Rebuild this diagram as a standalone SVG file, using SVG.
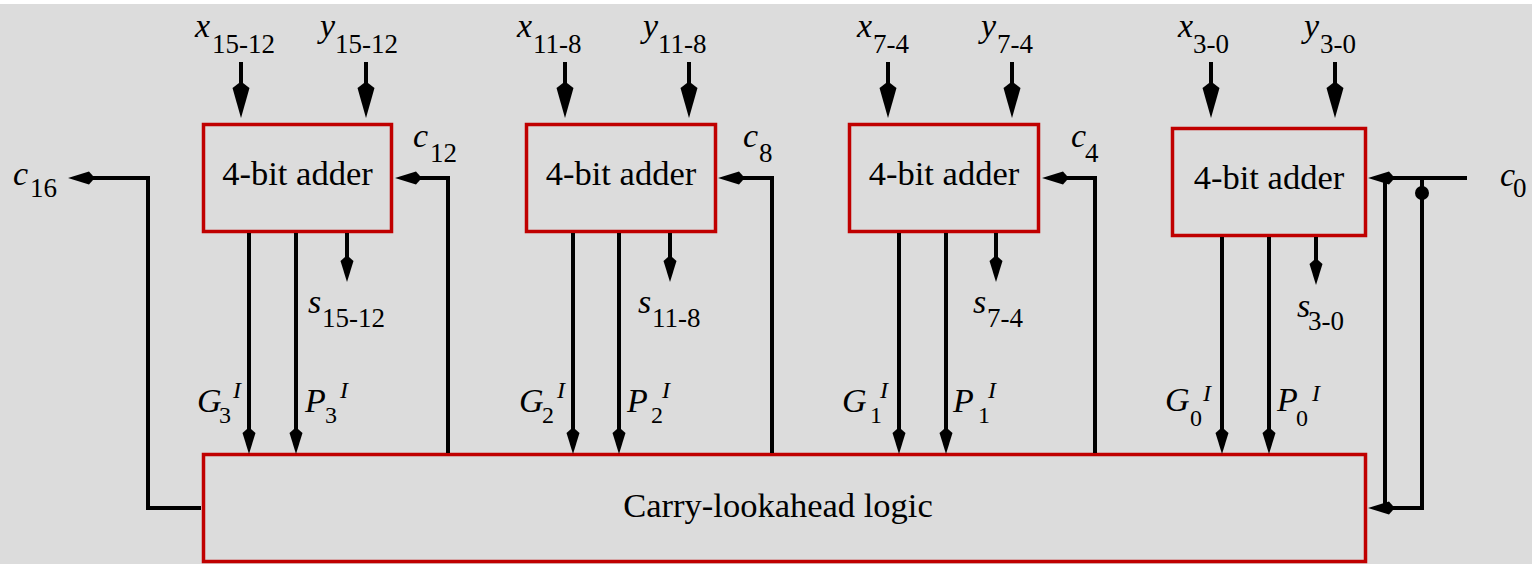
<svg xmlns="http://www.w3.org/2000/svg" width="1532" height="564" viewBox="0 0 1532 564">
<style>
.t{font-family:'Liberation Serif','Times New Roman','DejaVu Serif',serif}
.m{font-size:34px;font-style:italic}
.sb{font-size:27px;font-style:normal}
.sc{font-size:24px;font-style:normal}
.sp{font-size:24px;font-style:italic}
.lbl{font-size:34.5px}
.box{fill:none;stroke:#C00000;stroke-width:3.5}
.w{fill:none;stroke:#000;stroke-width:4}
.big{marker-end:url(#big)}
.sm{marker-end:url(#sm)}
</style>
<defs>
<marker id="big" markerUnits="userSpaceOnUse" viewBox="-16 -10 38 20" refX="0" refY="0" markerWidth="38" markerHeight="20" orient="auto" overflow="visible"><path d="M20,0 L-10,-8.5 L-15,-2 L-15,2 L-10,8.5 Z" fill="#000"/></marker>
<marker id="sm" markerUnits="userSpaceOnUse" viewBox="-11 -8 28 16" refX="0" refY="0" markerWidth="28" markerHeight="16" orient="auto" overflow="visible"><path d="M15,0 L-6,-6.5 L-10,-2 L-10,2 L-6,6.5 Z" fill="#000"/></marker>
</defs>
<rect x="0" y="0" width="1532" height="564" fill="#fff"/>
<rect x="0" y="4" width="1532" height="560" fill="#DCDCDC"/>

<g class="t" font-family="Liberation Serif, Times New Roman, DejaVu Serif, serif" fill="#000">
<g id="adder3">
<rect class="box" x="203.5" y="124.5" width="188" height="107"/>
<text class="lbl" x="297.5" y="185" text-anchor="middle">4-bit adder</text>
</g>
<g id="adder2">
<rect class="box" x="526.5" y="124.5" width="189" height="107"/>
<text class="lbl" x="621" y="185" text-anchor="middle">4-bit adder</text>
</g>
<g id="adder1">
<rect class="box" x="849.5" y="124.5" width="189" height="107"/>
<text class="lbl" x="944" y="185" text-anchor="middle">4-bit adder</text>
</g>
<g id="adder0">
<rect class="box" x="1172.5" y="128.5" width="193" height="107"/>
<text class="lbl" x="1269" y="189" text-anchor="middle">4-bit adder</text>
</g>
<g id="cla">
<rect class="box" x="203.5" y="454.5" width="1162" height="107"/>
<text class="lbl" x="778" y="517" text-anchor="middle">Carry-lookahead logic</text>
</g>

<g id="connectors">
<path class="w big" d="M241,62 V98"/>
<path class="w big" d="M366,62 V98"/>
<path class="w big" d="M565,62 V98"/>
<path class="w big" d="M689,62 V98"/>
<path class="w big" d="M888,62 V98"/>
<path class="w big" d="M1012,62 V98"/>
<path class="w big" d="M1211,62 V98"/>
<path class="w big" d="M1335,62 V98"/>
<path class="w sm" d="M249,233 V439"/>
<path class="w sm" d="M296,233 V439"/>
<path class="w sm" d="M573,233 V439"/>
<path class="w sm" d="M619,233 V439"/>
<path class="w sm" d="M899,233 V439"/>
<path class="w sm" d="M946,233 V439"/>
<path class="w sm" d="M1222,237 V439"/>
<path class="w sm" d="M1269,237 V439"/>
<path class="w sm" d="M347,233 V267"/>
<path class="w sm" d="M670,233 V267"/>
<path class="w sm" d="M996,233 V267"/>
<path class="w sm" d="M1316,237 V270"/>
<path class="w sm" d="M201,508 H148 V178 H83"/>
<path class="w sm" d="M448,453 V178 H410"/>
<path class="w sm" d="M772,453 V178 H733"/>
<path class="w sm" d="M1095,453 V178 H1057"/>
<path class="w sm" d="M1467,178 H1383"/>
<path class="w" d="M1385,178 V508"/>
<path class="w sm" d="M1422,178 V508 H1383"/>
<circle cx="1422" cy="193" r="7" fill="#000"/>
</g>

<g id="labels">
<text class="m" y="37"><tspan x="195">x</tspan><tspan class="sb" x="212" y="53">15-12</tspan></text>
<text class="m" y="37"><tspan x="320">y</tspan><tspan class="sb" x="335" y="53">15-12</tspan></text>
<text class="m" y="37"><tspan x="517">x</tspan><tspan class="sb" x="533" y="53">11-8</tspan></text>
<text class="m" y="37"><tspan x="643">y</tspan><tspan class="sb" x="658" y="53">11-8</tspan></text>
<text class="m" y="37"><tspan x="857">x</tspan><tspan class="sb" x="873" y="53">7-4</tspan></text>
<text class="m" y="37"><tspan x="981">y</tspan><tspan class="sb" x="997" y="53">7-4</tspan></text>
<text class="m" y="37"><tspan x="1178">x</tspan><tspan class="sb" x="1193" y="53">3-0</tspan></text>
<text class="m" y="37"><tspan x="1304">y</tspan><tspan class="sb" x="1320" y="53">3-0</tspan></text>

<text class="m" y="147"><tspan x="413">c</tspan><tspan class="sb" x="430" y="162">12</tspan></text>
<text class="m" y="147"><tspan x="743">c</tspan><tspan class="sb" x="759" y="162">8</tspan></text>
<text class="m" y="147"><tspan x="1071">c</tspan><tspan class="sb" x="1085" y="162">4</tspan></text>
<text class="m" y="185"><tspan x="13">c</tspan><tspan class="sb" x="30" y="197">16</tspan></text>
<text class="m" y="186"><tspan x="1500">c</tspan><tspan class="sb" x="1513" y="197">0</tspan></text>

<text class="m" y="313"><tspan x="308">s</tspan><tspan class="sb" x="322" y="327">15-12</tspan></text>
<text class="m" y="313"><tspan x="638">s</tspan><tspan class="sb" x="652" y="327">11-8</tspan></text>
<text class="m" y="313"><tspan x="973">s</tspan><tspan class="sb" x="987" y="327">7-4</tspan></text>
<text class="m" y="317"><tspan x="1297">s</tspan><tspan class="sb" x="1308" y="330">3-0</tspan></text>

<text class="m" y="412"><tspan x="197">G</tspan><tspan class="sc" x="219" y="423">3</tspan><tspan class="sp" x="233" y="398">I</tspan></text>
<text class="m" y="412"><tspan x="305">P</tspan><tspan class="sc" x="325" y="423">3</tspan><tspan class="sp" x="340" y="398">I</tspan></text>
<text class="m" y="412"><tspan x="519">G</tspan><tspan class="sc" x="542" y="423">2</tspan><tspan class="sp" x="557" y="398">I</tspan></text>
<text class="m" y="412"><tspan x="627">P</tspan><tspan class="sc" x="651" y="423">2</tspan><tspan class="sp" x="662" y="398">I</tspan></text>
<text class="m" y="412"><tspan x="842">G</tspan><tspan class="sc" x="870" y="423">1</tspan><tspan class="sp" x="880" y="398">I</tspan></text>
<text class="m" y="412"><tspan x="953">P</tspan><tspan class="sc" x="978" y="423">1</tspan><tspan class="sp" x="988" y="398">I</tspan></text>
<text class="m" y="411"><tspan x="1165">G</tspan><tspan class="sc" x="1190" y="426">0</tspan><tspan class="sp" x="1203" y="401">I</tspan></text>
<text class="m" y="411"><tspan x="1277">P</tspan><tspan class="sc" x="1296" y="426">0</tspan><tspan class="sp" x="1312" y="401">I</tspan></text>
</g>
</g>
</svg>
